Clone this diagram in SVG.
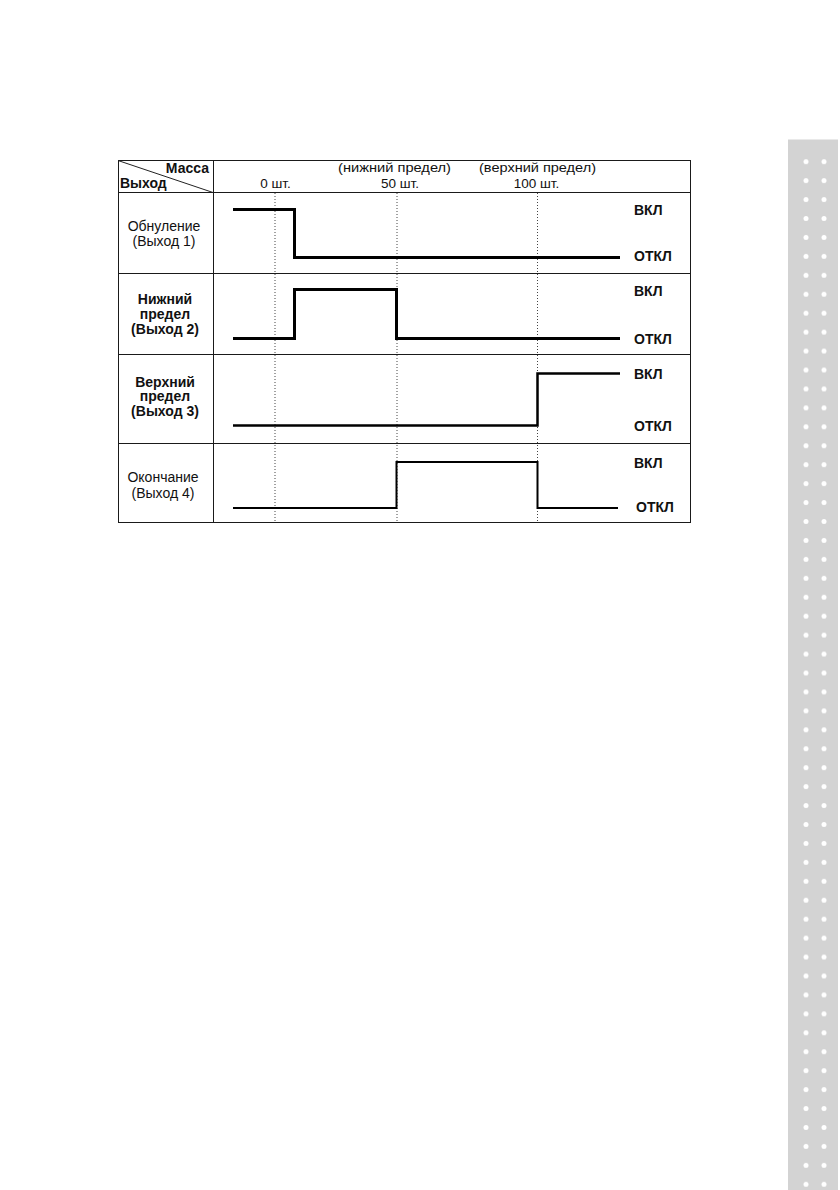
<svg xmlns="http://www.w3.org/2000/svg" width="840" height="1190" viewBox="0 0 840 1190">
<defs>
<style>
.t{font-family:"Liberation Sans",Arial,sans-serif;fill:#111}
.lab{font-size:14px;text-anchor:middle}
.hd{font-size:13.5px;text-anchor:middle}
.st{font-size:14px;font-weight:bold}
.b{font-weight:bold}
.grid{stroke:#1a1a1a;stroke-width:1;fill:none}
.dot{stroke:#444;stroke-width:1;stroke-dasharray:1 2;fill:none}
.sig{stroke:#000;fill:none;stroke-linejoin:miter;stroke-linecap:butt}
</style>
<pattern id="dots" patternUnits="userSpaceOnUse" x="797" y="152.23" width="18" height="18.937">
<circle cx="9" cy="9.47" r="2.5" fill="#fff"/>
</pattern>
</defs>
<rect width="840" height="1190" fill="#fff"/>
<g id="sidebar">
<rect x="788" y="139.5" width="50" height="1050.5" fill="#d3d3d3"/>
<rect x="797" y="152.23" width="36" height="1041.5" fill="url(#dots)"/>
</g>
<g id="table">
<rect class="grid" x="118.5" y="160.5" width="572" height="362"/>
<line class="grid" x1="213.5" y1="160.5" x2="213.5" y2="522.5"/>
<line class="grid" x1="118.5" y1="192.5" x2="690.5" y2="192.5"/>
<line class="grid" x1="118.5" y1="273.5" x2="690.5" y2="273.5"/>
<line class="grid" x1="118.5" y1="354.5" x2="690.5" y2="354.5"/>
<line class="grid" x1="118.5" y1="443.5" x2="690.5" y2="443.5"/>
<line stroke="#222" stroke-width="1" x1="118" y1="160.5" x2="213" y2="192.5"/>
</g>
<g id="header">
<text class="t st" x="209" y="173" text-anchor="end">Масса</text>
<text class="t st" x="120" y="188">Выход</text>
<text class="t hd" x="394.5" y="172" textLength="113" lengthAdjust="spacingAndGlyphs">(нижний предел)</text>
<text class="t hd" x="537.5" y="172" textLength="117" lengthAdjust="spacingAndGlyphs">(верхний предел)</text>
<text class="t hd" x="275.5" y="188">0 шт.</text>
<text class="t hd" x="400" y="188">50 шт.</text>
<text class="t hd" x="536.5" y="188">100 шт.</text>
</g>
<g id="gridlines">
<line class="dot" x1="275" y1="193" x2="275" y2="522"/>
<line class="dot" x1="397" y1="193" x2="397" y2="522"/>
<line class="dot" x1="537.5" y1="193" x2="537.5" y2="522"/>
</g>
<g id="row1">
<text class="t lab" x="164" y="231">Обнуление</text>
<text class="t lab" x="164" y="246">(Выход 1)</text>
<path class="sig" stroke-width="3" d="M233 209.5H294.5V257.5H620"/>
<text class="t st" x="634" y="215">ВКЛ</text>
<text class="t st" x="634" y="261">ОТКЛ</text>
</g>
<g id="row2">
<text class="t lab b" x="165" y="304">Нижний</text>
<text class="t lab b" x="165" y="319">предел</text>
<text class="t lab b" x="165" y="334">(Выход 2)</text>
<path class="sig" stroke-width="3" d="M233 338.5H294.5V289.5H396.5V338.5H620"/>
<text class="t st" x="634" y="296">ВКЛ</text>
<text class="t st" x="634" y="344">ОТКЛ</text>
</g>
<g id="row3">
<text class="t lab b" x="165" y="387">Верхний</text>
<text class="t lab b" x="165" y="401">предел</text>
<text class="t lab b" x="165" y="416">(Выход 3)</text>
<path class="sig" stroke-width="2.5" d="M233 425.5H537.5V373.5H620"/>
<text class="t st" x="634" y="379">ВКЛ</text>
<text class="t st" x="634" y="431">ОТКЛ</text>
</g>
<g id="row4">
<text class="t lab" x="163" y="482">Окончание</text>
<text class="t lab" x="163" y="498">(Выход 4)</text>
<path class="sig" stroke-width="2" d="M233 508H396.5V462H537.5V508H618"/>
<text class="t st" x="634" y="468">ВКЛ</text>
<text class="t st" x="636" y="512">ОТКЛ</text>
</g>
</svg>
